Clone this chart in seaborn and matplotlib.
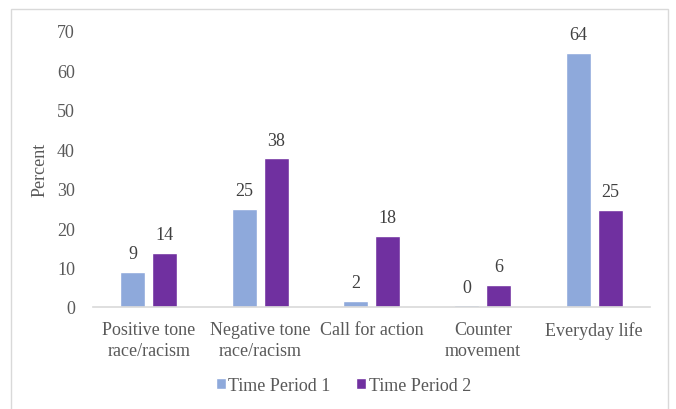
import numpy as np
import pandas as pd
import matplotlib
matplotlib.use('Agg')
import matplotlib.pyplot as plt
import seaborn as sns
from matplotlib.patches import Rectangle

categories = ['Positive tone\nrace/racism', 'Negative tone\nrace/racism', 'Call for action',
              'Counter\nmovement', 'Everyday life']
period1 = [8.9, 24.8, 1.5, 0.4, 64.5]
period2 = [13.8, 37.7, 18.1, 5.6, 24.6]
series = ['Time Period 1', 'Time Period 2']
colors = {'Time Period 1': '#8EA9DB', 'Time Period 2': '#7030A0'}

df = pd.DataFrame({
    'category': categories * 2,
    'value': period1 + period2,
    'series': [series[0]] * len(categories) + [series[1]] * len(categories),
})

sns.set_style('white')
plt.rcParams['font.family'] = ['Liberation Serif', 'DejaVu Serif']

fig = plt.figure(figsize=(6.76, 4.10), dpi=100)
ax = fig.add_axes([0.1376, 0.2488, 0.9615 - 0.1376, 0.922 - 0.2488])
sns.barplot(data=df, x='category', y='value', hue='series', palette=colors,
            width=0.575, gap=0.22, ax=ax, saturation=1, legend=True)

ax.set_ylim(0, 70)
ax.set_yticks(range(0, 71, 10))
ax.set_xlim(-0.5, len(categories) - 0.5)
for s in ['top', 'right', 'left']:
    ax.spines[s].set_visible(False)
ax.spines['bottom'].set_color('#D9D9D9')
ax.spines['bottom'].set_linewidth(1.2)
ax.tick_params(axis='both', length=0, colors='#595959', labelsize=13)
ax.tick_params(axis='y', pad=13)
ax.tick_params(axis='x', pad=10)
for lbl in ax.get_xticklabels():
    lbl.set_linespacing(1.3)
ax.set_xlabel('')
ax.set_ylabel('Percent', fontsize=13, color='#595959', labelpad=6)

for cont in ax.containers:
    ax.bar_label(cont, labels=[f'{v:.0f}' for v in cont.datavalues],
                 padding=7, fontsize=13, color='#404040')

ax.legend(loc='center', bbox_to_anchor=(0.508, 0.058), bbox_transform=fig.transFigure,
          ncol=2, frameon=False, fontsize=13, handlelength=0.55, handleheight=0.55,
          handletextpad=0.15, columnspacing=1.4, labelcolor='#595959')

fig.patches.append(Rectangle((11 / 676, -0.05), 657 / 676, 1 - 10 / 410 + 0.05,
                             transform=fig.transFigure, fill=False,
                             edgecolor='#D9D9D9', linewidth=1))

fig.savefig('out.png', dpi=100)
